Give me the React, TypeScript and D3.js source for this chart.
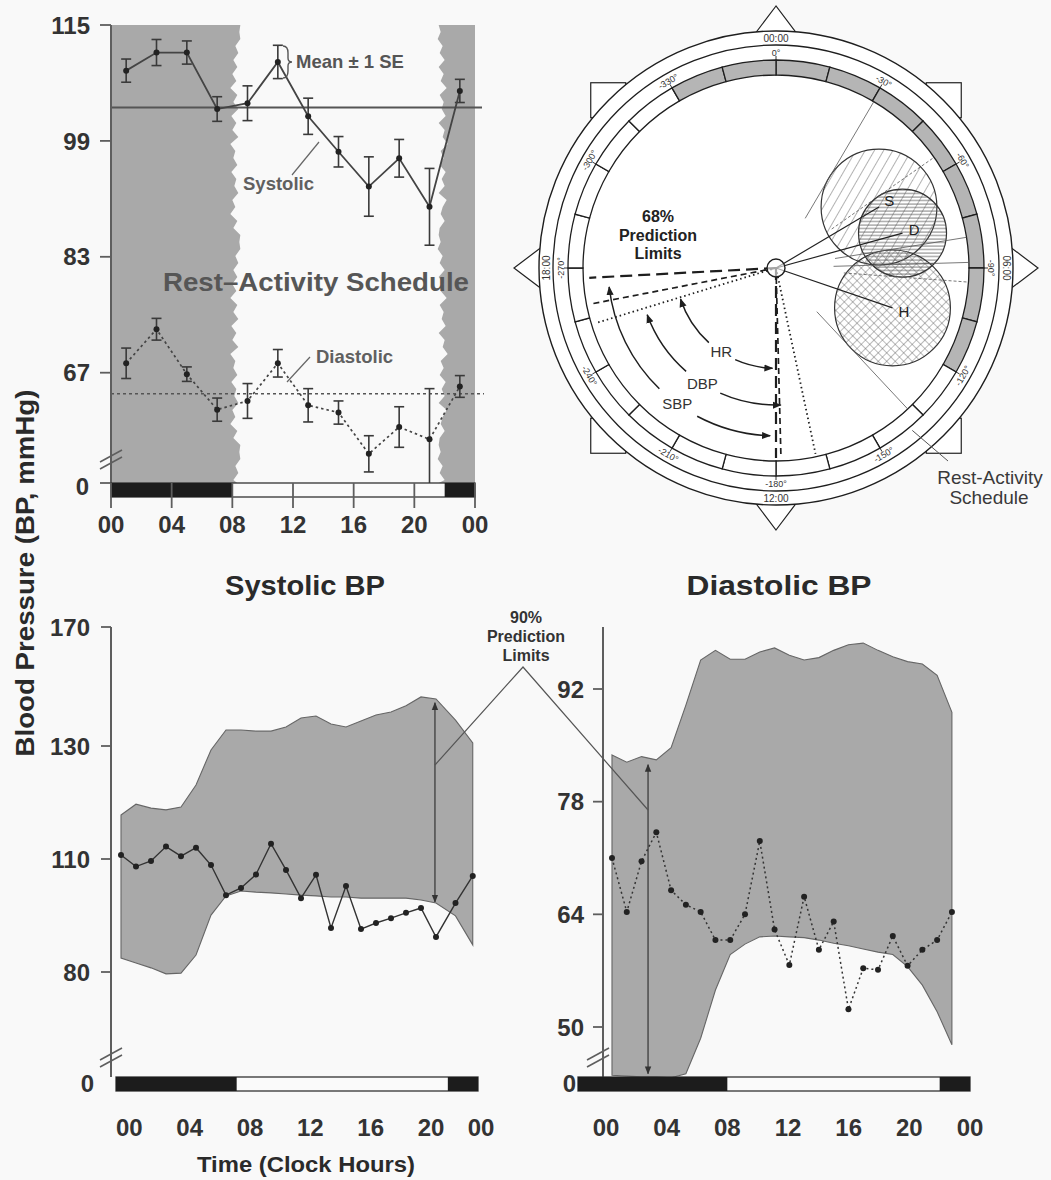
import React from 'react';
import * as d3 from 'd3';

const FONT = "'Liberation Sans', Arial, Helvetica, sans-serif";
const AXIS = '#5e5e5e';
const SHADE = '#a9a9a9';

// ---------- Panel A: 2-hourly means ± 1 SE ----------
const binHours = [1, 3, 5, 7, 9, 11, 13, 15, 17, 19, 21, 23];
const sbpBinMean = [108.7, 111.2, 111.2, 103.4, 104.2, 109.9, 102.4, 97.5, 92.7, 96.6, 89.9, 105.9];
const sbpBinSE = [1.6, 1.8, 1.6, 1.7, 2.4, 2.3, 2.5, 2.1, 4.1, 2.6, 5.3, 1.6];
const dbpBinMean = [68.3, 73.0, 66.8, 61.9, 63.1, 68.3, 62.5, 61.5, 55.8, 59.5, 57.8, 65.1];
const dbpBinSE = [2.1, 1.5, 1.0, 1.6, 2.4, 1.9, 2.3, 1.6, 2.5, 2.8, 7.0, 1.5];
const sbpMesor = 103.6;
const dbpMesor = 64.1;
const panelATicks = [115, 99, 83, 67];

// ragged edges of the shaded rest span (px offsets from the transition hour)
const restEdgeIn = [8, 7, 8, 3, 6, 1, 5, 0, 4, -2, 5, 1, 6, -1, 4, 0, 6, -2, 3, 1, 5, -1, 4, 2, 6, 0, 3, -2, 5, 1];
const restEdgeOut = [-6, -4, -7, -2, -5, 0, -6, -1, -4, 2, -5, -1, -3, 1, -6, 0, -2, 3, -4, -1, -5, 1, -3, 0, -6, 2, -2, -4, 0, -5];

const hourTicks = [0, 4, 8, 12, 16, 20, 24];
const hourTickLabels = ['00', '04', '08', '12', '16', '20', '00'];
const restSpans = [[0, 8], [22, 24]];

// ---------- Hourly profiles with 90% prediction limits ----------
const sbpHours = [0.5, 1.5, 2.5, 3.5, 4.5, 5.5, 6.5, 7.5, 8.5, 9.5, 10.5, 11.5, 12.5, 13.5, 14.5, 15.5, 16.5, 17.5, 18.5, 19.5, 20.5, 21.5, 22.8, 23.95];
const sbpHourly = [110.7, 108.0, 109.5, 112.2, 110.5, 112.0, 108.4, 100.4, 102.3, 105.9, 112.7, 107.1, 99.6, 105.8, 91.7, 102.8, 91.4, 93.0, 94.3, 95.7, 97.0, 89.3, 98.3, 105.5];
const sbpUpper = [117.8, 119.7, 119.0, 118.7, 119.2, 123.1, 129.3, 135.4, 135.4, 135.0, 135.0, 136.4, 139.4, 140.1, 137.4, 136.4, 138.4, 140.4, 141.4, 143.5, 146.5, 145.8, 138.7, 131.0];
const sbpLower = [83.7, 82.4, 81.1, 79.5, 79.7, 84.5, 95.1, 100.2, 101.5, 101.2, 101.0, 100.7, 100.4, 100.2, 99.9, 99.9, 99.6, 99.6, 99.6, 99.6, 99.1, 98.3, 94.9, 87.2];
const sbpTicks = [170, 130, 110, 80];
const sbpLimitArrow = { hour: 21.43, hi: 144.5, lo: 98.6 };

const dbpHours = [0.5, 1.5, 2.5, 3.5, 4.5, 5.5, 6.5, 7.5, 8.5, 9.5, 10.5, 11.5, 12.5, 13.5, 14.5, 15.5, 16.5, 17.5, 18.5, 19.5, 20.5, 21.5, 22.5, 23.5];
const dbpHourly = [71.0, 64.3, 70.6, 74.2, 67.0, 65.2, 64.3, 60.8, 60.8, 64.0, 73.1, 62.1, 57.7, 66.2, 59.6, 63.1, 52.2, 57.3, 57.1, 61.3, 57.6, 59.6, 60.8, 64.3];
const dbpUpper = [83.8, 82.9, 83.6, 83.2, 84.7, 90.0, 95.6, 96.8, 95.7, 95.7, 96.6, 97.1, 96.2, 95.6, 95.9, 96.8, 97.5, 97.7, 96.8, 96.0, 95.4, 95.1, 93.7, 89.1];
const dbpLower = [44.0, 43.9, 43.8, 43.8, 43.7, 44.2, 48.6, 54.6, 59.0, 60.3, 61.2, 61.3, 61.2, 61.1, 60.8, 60.4, 60.1, 59.7, 59.3, 59.0, 57.5, 55.2, 51.9, 47.8];
const dbpTicks = [92, 78, 64, 50];
const dbpLimitArrow = { hour: 2.94, hi: 82.6, lo: 44.2 };

// ---------- Cosinor polar plot ----------
const degreeLabels = [0, -30, -60, -90, -120, -150, -180, -210, -240, -270, -300, -330];
const clockLabels = [
  { deg: 0, label: '00:00' },
  { deg: 90, label: '06:00' },
  { deg: 180, label: '12:00' },
  { deg: 270, label: '18:00' },
];
const bandHours = [0, 1, 2, 3, 4, 5, 6, 7, 8, 9, 10, 11, 12, 13, 14, 15, 16, 17, 18, 19, 20, 21, 22, 23];
// acrophase (deg), amplitude and confidence radius relative to the inner ring
const cosinor = [
  { label: 'S', acrophase: -59.4, amp: 0.62, conf: 0.3, fill: 'url(#hatchS)' },
  { label: 'D', acrophase: -74.6, amp: 0.68, conf: 0.228, fill: 'url(#hatchD)' },
  { label: 'H', acrophase: -108.9, amp: 0.638, conf: 0.3, fill: 'url(#hatchH)' },
];
// 68% prediction limits of the phase (deg, clockwise from 00:00)
const phaseLimits = [
  { name: 'SBP', lo: 180, hi: 267, arc: [182, 263.5], arcR: 0.87, gap: [208, 224], dash: '12,6', w: 2.2 },
  { name: 'DBP', lo: 178.5, hi: 259, arc: [178, 250], arcR: 0.71, gap: [204, 221], dash: '6,4', w: 1.7 },
  { name: 'HR', lo: 168, hi: 253, arc: [182, 252], arcR: 0.52, gap: [204, 222], dash: '1.5,3', w: 1.8 },
];

const P = { cx: 776, cy: 268, r1: 237, r2: 223, r3: 208, r4: 193 };
const rad = (d: number) => (d * Math.PI) / 180;
const pol = (deg: number, r: number): [number, number] => [
  P.cx + r * Math.sin(rad(deg)),
  P.cy - r * Math.cos(rad(deg)),
];

function tangentRot(deg: number) {
  const t = ((deg % 360) + 360) % 360;
  if (t > 90 && t < 270) return t - 180;
  if (t >= 270) return t - 360;
  return t;
}

function BreakMark({ x, y }: { x: number; y: number }) {
  return (
    <g stroke={AXIS} strokeWidth={1.6}>
      <line x1={x - 11} y1={y + 6} x2={x + 11} y2={y - 6} />
      <line x1={x - 11} y1={y + 13} x2={x + 11} y2={y + 1} />
    </g>
  );
}

function RestBar({ x, x0, x1, y, h }: { x: (v: number) => number; x0: number; x1: number; y: number; h: number }) {
  return (
    <g>
      <rect x={x0} y={y} width={x1 - x0} height={h} fill="#fafafa" stroke="#333" strokeWidth={1.3} />
      {restSpans.map(([a, b], i) => {
        const xa = i === 0 ? x0 : x(a);
        const xb = b === 24 ? x1 : x(b);
        return <rect key={i} x={xa} y={y} width={xb - xa} height={h} fill="#1c1c1c" />;
      })}
    </g>
  );
}

export default function App() {
  // ---------------- Panel A ----------------
  const ax = d3.scaleLinear().domain([0, 24]).range([111, 475]);
  const ay = d3.scaleLinear().domain([67, 115]).range([372.7, 25]);
  const aTop = 25;
  const aBase = 483;

  const edgePath = (xEdge: number, jitter: number[], xFar: number) => {
    const pts: [number, number][] = [[xFar, aTop]];
    const step = 7;
    const n = Math.ceil((aBase - aTop) / step);
    for (let k = 0; k <= n; k++) {
      pts.push([xEdge + jitter[k % jitter.length], Math.min(aTop + k * step, aBase)]);
    }
    pts.push([xFar, aBase]);
    return (d3.line()(pts) as string) + 'Z';
  };

  const sbpBinLine = d3.line<number>().x((_, i) => ax(binHours[i])).y((d) => ay(d))(sbpBinMean) as string;
  const dbpBinLine = d3.line<number>().x((_, i) => ax(binHours[i])).y((d) => ay(d))(dbpBinMean) as string;

  // ---------------- Systolic hourly ----------------
  const sx = d3.scaleLinear().domain([0, 24]).range([113.5, 473.5]);
  const sAxisX = d3.scaleLinear().domain([0, 24]).range([116, 478]);
  const sy = d3.scaleLinear().domain([80, 110, 130, 170]).range([972, 859, 746, 627]);
  const sBand = d3
    .area<number>()
    .x((_, i) => sx(sbpHours[i]))
    .y0((_, i) => sy(sbpLower[i]))
    .y1((d) => sy(d))(sbpUpper) as string;
  const sLine = d3.line<number>().x((_, i) => sx(sbpHours[i])).y((d) => sy(d))(sbpHourly) as string;

  // ---------------- Diastolic hourly ----------------
  const dx = d3.scaleLinear().domain([0, 24]).range([604.6, 959.3]);
  const dAxisX = d3.scaleLinear().domain([0, 24]).range([606, 970]);
  const dy = d3.scaleLinear().domain([50, 92]).range([1027, 689]);
  const dBand = d3
    .area<number>()
    .x((_, i) => dx(dbpHours[i]))
    .y0((_, i) => dy(dbpLower[i]))
    .y1((d) => dy(d))(dbpUpper) as string;
  const dLine = d3.line<number>().x((_, i) => dx(dbpHours[i])).y((d) => dy(d))(dbpHourly) as string;

  const bottomBarY = 1077;
  const barH = 14;

  // ---------------- Polar ----------------
  const rUnit = d3.scaleLinear().domain([0, 1]).range([0, P.r4]);
  const bandArc = d3.arc<{ a0: number; a1: number }>()
    .innerRadius(P.r4)
    .outerRadius(P.r3)
    .startAngle((d) => rad(d.a0))
    .endAngle((d) => rad(d.a1));

  const arcPath = (r: number, a0: number, a1: number) => {
    const p = d3.path();
    const s = pol(a0, r);
    p.moveTo(s[0], s[1]);
    p.arc(P.cx, P.cy, r, rad(a0 - 90), rad(a1 - 90), a1 < a0);
    return p.toString();
  };

  const tickText = { fontFamily: FONT, fontWeight: 700, fontSize: 24, fill: '#333' } as const;

  return (
    <svg
      width={1051}
      height={1180}
      viewBox="0 0 1051 1180"
      style={{ position: 'absolute', left: 0, top: 0, background: '#f9f9f9' }}
    >
      <defs>
        <pattern id="hatchS" width="8" height="8" patternUnits="userSpaceOnUse" patternTransform="rotate(30)">
          <line x1="0" y1="0" x2="0" y2="8" stroke="#555" strokeWidth="0.9" />
        </pattern>
        <pattern id="hatchD" width="6" height="3.5" patternUnits="userSpaceOnUse">
          <line x1="0" y1="1" x2="6" y2="1" stroke="#555" strokeWidth="0.8" />
        </pattern>
        <pattern id="hatchH" width="6" height="6" patternUnits="userSpaceOnUse" patternTransform="rotate(45)">
          <line x1="0" y1="0" x2="0" y2="6" stroke="#555" strokeWidth="0.8" />
          <line x1="0" y1="0" x2="6" y2="0" stroke="#555" strokeWidth="0.8" />
        </pattern>
        <marker id="ah" viewBox="0 0 10 10" refX="9" refY="5" markerWidth="9" markerHeight="9"
          markerUnits="userSpaceOnUse" orient="auto-start-reverse">
          <path d="M0,1 L10,5 L0,9 z" fill="#1e1e1e" />
        </marker>
        <marker id="ahSmall" viewBox="0 0 10 10" refX="9" refY="5" markerWidth="8" markerHeight="8"
          markerUnits="userSpaceOnUse" orient="auto-start-reverse">
          <path d="M0,1 L10,5 L0,9 z" fill="#333" />
        </marker>
      </defs>

      {/* =================== Panel A =================== */}
      <g>
        <path d={edgePath(ax(8), restEdgeIn, ax(0))} fill={SHADE} />
        <path d={edgePath(ax(22), restEdgeOut, ax(24))} fill={SHADE} />

        <text x={316} y={291} textAnchor="middle" fontFamily={FONT} fontWeight={700} fontSize={26}
          fill="#565656" textLength={306} lengthAdjust="spacingAndGlyphs">
          Rest–Activity Schedule
        </text>

        {/* mesor references */}
        <line x1={ax(0)} x2={482} y1={ay(sbpMesor)} y2={ay(sbpMesor)} stroke="#555" strokeWidth={2} />
        <line x1={ax(0)} x2={484} y1={ay(dbpMesor)} y2={ay(dbpMesor)} stroke="#555" strokeWidth={1.6}
          strokeDasharray="3,3" />

        {/* error bars */}
        {[{ m: sbpBinMean, se: sbpBinSE }, { m: dbpBinMean, se: dbpBinSE }].map((s, si) =>
          s.m.map((m, i) => {
            const x = ax(binHours[i]);
            const yHi = ay(m + s.se[i]);
            const yLo = Math.min(ay(m - s.se[i]), aBase);
            return (
              <g key={`${si}-${i}`} stroke="#3a3a3a" strokeWidth={1.6}>
                <line x1={x} x2={x} y1={yHi} y2={yLo} />
                <line x1={x - 5} x2={x + 5} y1={yHi} y2={yHi} />
                {yLo < aBase && <line x1={x - 5} x2={x + 5} y1={yLo} y2={yLo} />}
              </g>
            );
          })
        )}
        <path d={sbpBinLine} fill="none" stroke="#444" strokeWidth={1.8} />
        <path d={dbpBinLine} fill="none" stroke="#444" strokeWidth={1.7} strokeDasharray="2.5,3" />
        {sbpBinMean.map((m, i) => (
          <circle key={`sp${i}`} cx={ax(binHours[i])} cy={ay(m)} r={3} fill="#222" />
        ))}
        {dbpBinMean.map((m, i) => (
          <circle key={`dp${i}`} cx={ax(binHours[i])} cy={ay(m)} r={3} fill="#222" />
        ))}

        {/* annotations */}
        <path d="M283,46 Q288,46 288,53 L288,58 Q288,62 292,62 Q288,62 288,66 L288,71 Q288,78 283,78"
          fill="none" stroke="#555" strokeWidth={1.4} />
        <text x={296} y={68} fontFamily={FONT} fontWeight={700} fontSize={18.5} fill="#555">Mean ± 1 SE</text>
        <line x1={292} y1={175} x2={319} y2={142} stroke="#666" strokeWidth={1.2} />
        <text x={243} y={190} fontFamily={FONT} fontWeight={700} fontSize={18.5} fill="#606060">Systolic</text>
        <line x1={310} y1={357} x2={287} y2={382} stroke="#666" strokeWidth={1.2} />
        <text x={316} y={363} fontFamily={FONT} fontWeight={700} fontSize={18.5} fill="#606060">Diastolic</text>

        {/* axes */}
        <line x1={ax(0)} x2={ax(0)} y1={aTop} y2={aBase} stroke={AXIS} strokeWidth={2} />
        {panelATicks.map((t) => (
          <g key={t}>
            <line x1={100} x2={ax(0)} y1={ay(t)} y2={ay(t)} stroke={AXIS} strokeWidth={1.8} />
            <text x={90} y={ay(t)} dy="0.36em" textAnchor="end" {...tickText}>{t}</text>
          </g>
        ))}
        <line x1={100} x2={ax(0)} y1={aBase} y2={aBase} stroke={AXIS} strokeWidth={1.8} />
        <text x={89} y={aBase + 3} dy="0.36em" textAnchor="end" {...tickText}>0</text>
        <BreakMark x={111} y={456} />

        <RestBar x={ax} x0={ax(0)} x1={ax(24)} y={aBase} h={barH} />
        {hourTicks.map((h) => (
          <line key={h} x1={ax(h)} x2={ax(h)} y1={aBase} y2={508} stroke={AXIS} strokeWidth={1.8} />
        ))}
        {hourTicks.map((h, i) => (
          <text key={h} x={ax(h)} y={524} dy="0.36em" textAnchor="middle" {...tickText}>{hourTickLabels[i]}</text>
        ))}
      </g>

      {/* =================== Cosinor polar plot =================== */}
      <g>
        {[0, 90, 180, 270].map((d) => {
          const a = pol(d, 262);
          const b = pol(d - 6.3, 230);
          const c = pol(d + 6.3, 230);
          return <polygon key={d} points={`${a} ${b} ${c}`} fill="#fff" stroke="#222" strokeWidth={1.2} />;
        })}
        {[45, 135, 225, 315].map((d) => {
          const [x, y] = pol(d, 262);
          const sxn = Math.sign(Math.sin(rad(d)));
          const syn = -Math.sign(Math.cos(rad(d)));
          const rx = sxn > 0 ? x - 35 : x;
          const ry = syn > 0 ? y - 35 : y;
          return <rect key={d} x={rx} y={ry} width={35} height={35} fill="#fff" stroke="#222" strokeWidth={1.2} />;
        })}
        <circle cx={P.cx} cy={P.cy} r={P.r1} fill="#fff" stroke="#1e1e1e" strokeWidth={1.4} />
        <circle cx={P.cx} cy={P.cy} r={P.r2} fill="none" stroke="#1e1e1e" strokeWidth={1.3} />
        <g transform={`translate(${P.cx},${P.cy})`}>
          {bandHours.map((h) => (
            <path key={h} d={bandArc({ a0: h * 15, a1: (h + 1) * 15 }) as string}
              fill={h >= 22 || h < 8 ? '#b5b5b5' : '#fff'} stroke="#1e1e1e" strokeWidth={1.3} />
          ))}
        </g>
        {degreeLabels.map((d) => {
          const th = -d;
          const [x, y] = pol(th, (P.r2 + P.r3) / 2);
          const [t0x, t0y] = pol(th, P.r3);
          const [t1x, t1y] = pol(th, P.r3 + 4);
          return (
            <g key={d}>
              <line x1={t0x} y1={t0y} x2={t1x} y2={t1y} stroke="#333" strokeWidth={1} />
              <text transform={`translate(${x},${y}) rotate(${tangentRot(th)})`} textAnchor="middle"
                dy="0.35em" fontFamily={FONT} fontSize={9} fill="#333">{`${d}°`}</text>
            </g>
          );
        })}
        {clockLabels.map((c) => {
          const [x, y] = pol(c.deg, (P.r1 + P.r2) / 2);
          return (
            <text key={c.deg} transform={`translate(${x},${y}) rotate(${tangentRot(c.deg)})`} textAnchor="middle"
              dy="0.35em" fontFamily={FONT} fontSize={10} fill="#333">{c.label}</text>
          );
        })}

        {/* confidence regions */}
        {cosinor.map((c) => {
          const th = -c.acrophase;
          const [x, y] = pol(th, rUnit(c.amp));
          return <circle key={c.label} cx={x} cy={y} r={rUnit(c.conf)} fill={c.fill} stroke="#333" strokeWidth={1.2} />;
        })}
        {/* phase limits of each region projected to the schedule */}
        {cosinor.map((c) => {
          const th = -c.acrophase;
          const dist = rUnit(c.amp);
          const rr = rUnit(c.conf);
          const half = (Math.asin(rr / dist) * 180) / Math.PI;
          const tl = Math.sqrt(dist * dist - rr * rr);
          return [th - half, th + half].map((a, k) => {
            const [x0, y0] = pol(a, tl * 0.55);
            const [x1, y1] = pol(a, P.r4);
            return <line key={`${c.label}${k}`} x1={x0} y1={y0} x2={x1} y2={y1} stroke="#555" strokeWidth={0.8}
              strokeDasharray={c.label === 'D' ? '3,2' : undefined} />;
          });
        })}
        {cosinor.map((c) => {
          const th = -c.acrophase;
          const [x1, y1] = pol(th, rUnit(c.amp));
          const [lx, ly] = pol(th, rUnit(c.amp) + 12);
          return (
            <g key={c.label}>
              <line x1={P.cx} y1={P.cy} x2={x1} y2={y1} stroke="#222" strokeWidth={1.2} />
              <text x={lx} y={ly} dy="0.35em" textAnchor="middle" fontFamily={FONT} fontSize={15} fill="#222">{c.label}</text>
            </g>
          );
        })}

        {/* prediction-limit rays and arrows */}
        {phaseLimits.map((p) => (
          <g key={p.name} stroke="#1e1e1e" strokeWidth={p.w} strokeDasharray={p.dash} fill="none">
            <line x1={P.cx} y1={P.cy} x2={pol(p.lo, P.r4 - 3)[0]} y2={pol(p.lo, P.r4 - 3)[1]} />
            <line x1={P.cx} y1={P.cy} x2={pol(p.hi, P.r4 - 6)[0]} y2={pol(p.hi, P.r4 - 6)[1]} />
          </g>
        ))}
        {phaseLimits.map((p) => {
          const r = rUnit(p.arcR);
          const [lx, ly] = pol((p.gap[0] + p.gap[1]) / 2, r);
          return (
            <g key={p.name}>
              <path d={arcPath(r, p.gap[0], p.arc[0])} fill="none" stroke="#1e1e1e" strokeWidth={1.5} markerEnd="url(#ah)" />
              <path d={arcPath(r, p.gap[1], p.arc[1])} fill="none" stroke="#1e1e1e" strokeWidth={1.5} markerEnd="url(#ah)" />
              <text x={lx} y={ly} dy="0.35em" textAnchor="middle" fontFamily={FONT} fontSize={15} fill="#333">{p.name}</text>
            </g>
          );
        })}
        <circle cx={P.cx} cy={P.cy} r={9} fill="#fff" fillOpacity={0.6} stroke="#1e1e1e" strokeWidth={1.4} />

        <text x={658} y={222} textAnchor="middle" fontFamily={FONT} fontWeight={700} fontSize={16} fill="#222">68%</text>
        <text x={658} y={241} textAnchor="middle" fontFamily={FONT} fontWeight={700} fontSize={16} fill="#222">Prediction</text>
        <text x={658} y={259} textAnchor="middle" fontFamily={FONT} fontWeight={700} fontSize={16} fill="#222">Limits</text>

        <line x1={pol(140, 212)[0]} y1={pol(140, 212)[1]} x2={948} y2={461} stroke="#555" strokeWidth={1} />
        <text x={990} y={484} textAnchor="middle" fontFamily={FONT} fontSize={19} fill="#3a3a3a">Rest-Activity</text>
        <text x={989} y={504} textAnchor="middle" fontFamily={FONT} fontSize={19} fill="#3a3a3a">Schedule</text>
      </g>

      {/* =================== Systolic hourly =================== */}
      <g>
        <text x={305} y={595} textAnchor="middle" fontFamily={FONT} fontWeight={700} fontSize={27} fill="#2a2a2a"
          textLength={160} lengthAdjust="spacingAndGlyphs">Systolic BP</text>
        <path d={sBand} fill={SHADE} stroke="#666" strokeWidth={1.1} />
        <line x1={sx(sbpLimitArrow.hour)} x2={sx(sbpLimitArrow.hour)} y1={sy(sbpLimitArrow.lo)} y2={sy(sbpLimitArrow.hi)}
          stroke="#444" strokeWidth={1.4} markerStart="url(#ahSmall)" markerEnd="url(#ahSmall)" />
        <path d={sLine} fill="none" stroke="#333" strokeWidth={1.4} />
        {sbpHourly.map((v, i) => (
          <circle key={i} cx={sx(sbpHours[i])} cy={sy(v)} r={3} fill="#222" />
        ))}
        <line x1={111} x2={111} y1={627} y2={bottomBarY} stroke={AXIS} strokeWidth={2} />
        {sbpTicks.map((t) => (
          <g key={t}>
            <line x1={101} x2={111} y1={sy(t)} y2={sy(t)} stroke={AXIS} strokeWidth={1.8} />
            <text x={90} y={sy(t)} dy="0.36em" textAnchor="end" {...tickText}>{t}</text>
          </g>
        ))}
        <text x={94} y={1083} dy="0.36em" textAnchor="end" {...tickText}>0</text>
        <BreakMark x={111} y={1054} />
        <RestBar x={sAxisX} x0={sAxisX(0)} x1={sAxisX(24)} y={bottomBarY} h={barH} />
        {hourTicks.map((h, i) => (
          <text key={h} x={h < 24 ? sAxisX(h) : sAxisX(h) + 3} y={1127} dy="0.36em"
            textAnchor={h < 24 ? 'start' : 'middle'} {...tickText}>{hourTickLabels[i]}</text>
        ))}
      </g>

      {/* =================== Diastolic hourly =================== */}
      <g>
        <text x={779} y={595} textAnchor="middle" fontFamily={FONT} fontWeight={700} fontSize={27} fill="#2a2a2a"
          textLength={185} lengthAdjust="spacingAndGlyphs">Diastolic BP</text>
        <path d={dBand} fill={SHADE} stroke="#666" strokeWidth={1.1} />
        <line x1={dx(dbpLimitArrow.hour)} x2={dx(dbpLimitArrow.hour)} y1={dy(dbpLimitArrow.lo)} y2={dy(dbpLimitArrow.hi)}
          stroke="#444" strokeWidth={1.4} markerStart="url(#ahSmall)" markerEnd="url(#ahSmall)" />
        <path d={dLine} fill="none" stroke="#333" strokeWidth={1.5} strokeDasharray="2,3" />
        {dbpHourly.map((v, i) => (
          <circle key={i} cx={dx(dbpHours[i])} cy={dy(v)} r={3} fill="#222" />
        ))}
        <line x1={603} x2={603} y1={627} y2={bottomBarY} stroke={AXIS} strokeWidth={2} />
        {dbpTicks.map((t) => (
          <g key={t}>
            <line x1={593} x2={603} y1={dy(t)} y2={dy(t)} stroke={AXIS} strokeWidth={1.8} />
            <text x={584} y={dy(t)} dy="0.36em" textAnchor="end" {...tickText}>{t}</text>
          </g>
        ))}
        <text x={576} y={1083} dy="0.36em" textAnchor="end" {...tickText}>0</text>
        <BreakMark x={598} y={1054} />
        <RestBar x={dAxisX} x0={578} x1={dAxisX(24)} y={bottomBarY} h={barH} />
        {hourTicks.map((h, i) => (
          <text key={h} x={dAxisX(h)} y={1127} dy="0.36em" textAnchor="middle" {...tickText}>{hourTickLabels[i]}</text>
        ))}
      </g>

      {/* 90% prediction limits callout */}
      <g>
        <text x={526} y={623} textAnchor="middle" fontFamily={FONT} fontWeight={700} fontSize={16} fill="#333">90%</text>
        <text x={526} y={642} textAnchor="middle" fontFamily={FONT} fontWeight={700} fontSize={16} fill="#333">Prediction</text>
        <text x={526} y={661} textAnchor="middle" fontFamily={FONT} fontWeight={700} fontSize={16} fill="#333">Limits</text>
        <polyline
          points={`${sx(sbpLimitArrow.hour)},765 523,667 ${dx(dbpLimitArrow.hour)},810`}
          fill="none" stroke="#555" strokeWidth={1.2} />
      </g>

      {/* shared axis titles */}
      <text transform="translate(34,573) rotate(-90)" textAnchor="middle" fontFamily={FONT} fontWeight={700}
        fontSize={25} fill="#2a2a2a" textLength={367} lengthAdjust="spacingAndGlyphs">Blood Pressure (BP, mmHg)</text>
      <text x={306} y={1172} textAnchor="middle" fontFamily={FONT} fontWeight={700} fontSize={22} fill="#2a2a2a"
        textLength={218} lengthAdjust="spacingAndGlyphs">Time (Clock Hours)</text>
    </svg>
  );
}
